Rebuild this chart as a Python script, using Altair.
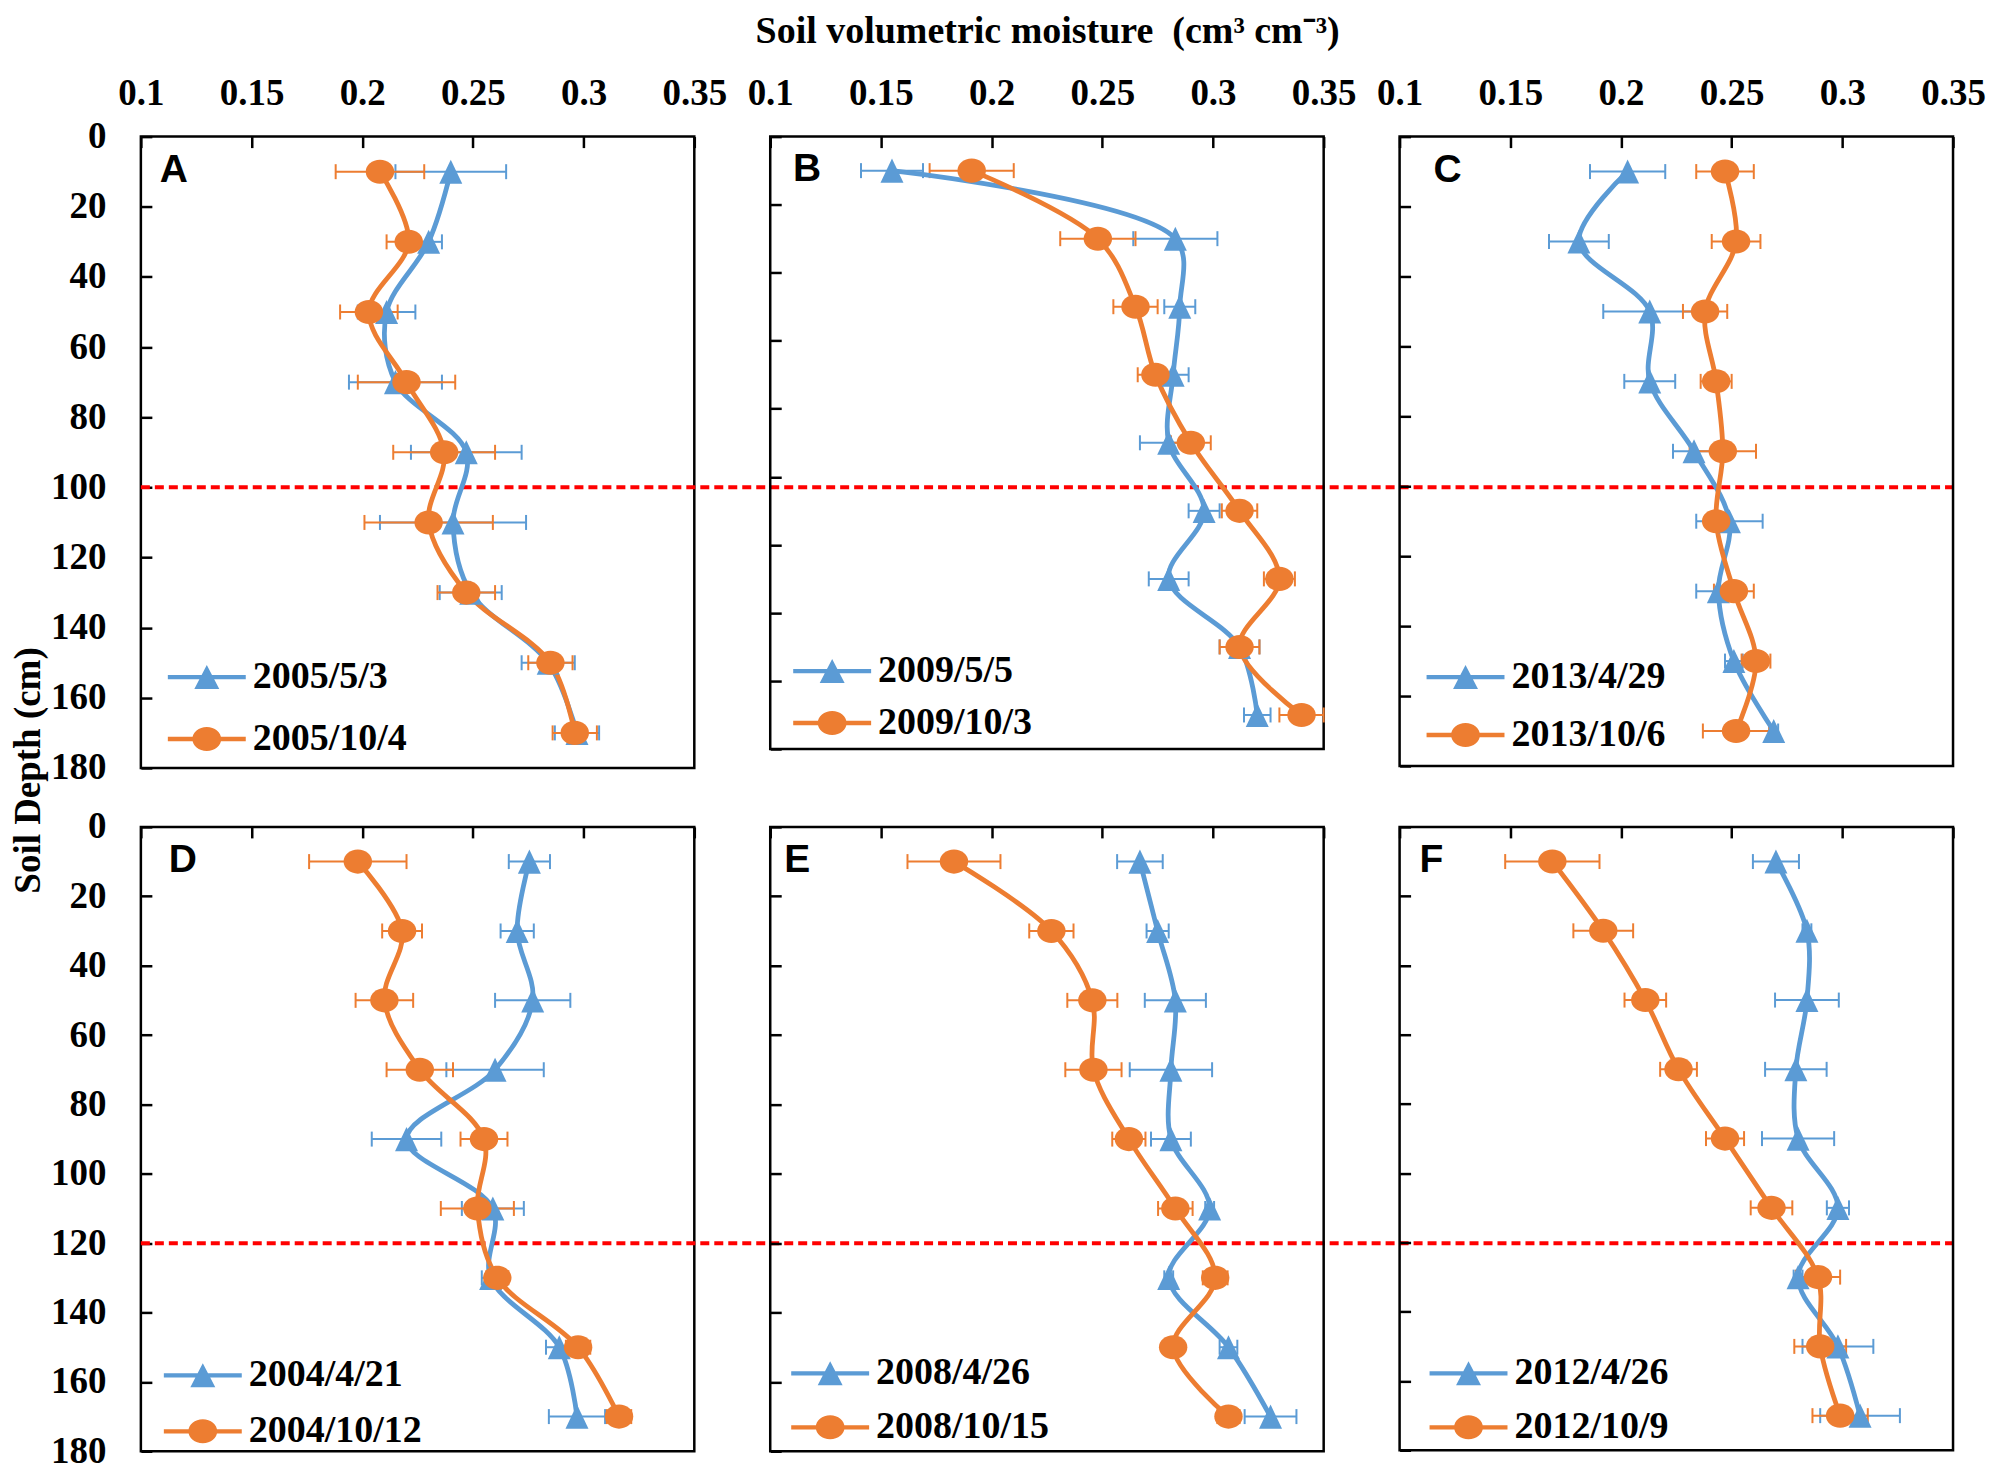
import altair as alt
import pandas as pd

# ---------------- data ----------------
DEPTHS = [10, 30, 50, 70, 90, 110, 130, 150, 170]
LETTERS = ["A", "B", "C", "D", "E", "F"]
BLUE_LABELS = ["2005/5/3", "2009/5/5", "2013/4/29", "2004/4/21", "2008/4/26", "2012/4/26"]
ORANGE_LABELS = ["2005/10/4", "2009/10/3", "2013/10/6", "2004/10/12", "2008/10/15", "2012/10/9"]

A_BLUE = [0.240, 0.230, 0.211, 0.215, 0.247, 0.241, 0.249, 0.284, 0.297]
A_BLUE_ERR = [0.025, 0.006, 0.013, 0.021, 0.025, 0.033, 0.014, 0.012, 0.010]
A_ORANGE = [0.208, 0.221, 0.203, 0.220, 0.237, 0.230, 0.247, 0.285, 0.296]
A_ORANGE_ERR = [0.020, 0.010, 0.013, 0.022, 0.023, 0.029, 0.013, 0.010, 0.010]

B_BLUE = [0.155, 0.283, 0.285, 0.282, 0.280, 0.296, 0.280, 0.312, 0.320]
B_BLUE_ERR = [0.014, 0.019, 0.007, 0.007, 0.013, 0.007, 0.009, 0.009, 0.006]
B_ORANGE = [0.191, 0.248, 0.265, 0.274, 0.290, 0.312, 0.330, 0.312, 0.340]
B_ORANGE_ERR = [0.019, 0.017, 0.010, 0.008, 0.009, 0.008, 0.007, 0.009, 0.010]

C_BLUE = [0.203, 0.181, 0.213, 0.213, 0.233, 0.249, 0.244, 0.251, 0.269]
C_BLUE_ERR = [0.017, 0.0135, 0.021, 0.0115, 0.0095, 0.015, 0.010, 0.004, 0.002]
C_ORANGE = [0.247, 0.252, 0.238, 0.243, 0.246, 0.243, 0.251, 0.261, 0.252]
C_ORANGE_ERR = [0.013, 0.011, 0.010, 0.007, 0.015, 0.004, 0.009, 0.0065, 0.015]

D_BLUE = [0.2755, 0.270, 0.277, 0.260, 0.220, 0.259, 0.258, 0.289, 0.297]
D_BLUE_ERR = [0.0093, 0.0075, 0.017, 0.022, 0.0157, 0.014, 0.004, 0.006, 0.0127]
D_ORANGE = [0.198, 0.218, 0.210, 0.226, 0.255, 0.252, 0.261, 0.2975, 0.316]
D_ORANGE_ERR = [0.022, 0.009, 0.013, 0.015, 0.0106, 0.0165, 0.005, 0.0055, 0.0055]

E_BLUE = [0.267, 0.275, 0.283, 0.281, 0.281, 0.2985, 0.280, 0.307, 0.326]
E_BLUE_ERR = [0.0103, 0.005, 0.0138, 0.0186, 0.009, 0.002, 0.002, 0.004, 0.0117]
E_ORANGE = [0.183, 0.227, 0.2455, 0.246, 0.262, 0.283, 0.301, 0.282, 0.307]
E_ORANGE_ERR = [0.021, 0.010, 0.0113, 0.0127, 0.0075, 0.0078, 0.0056, 0.003, 0.005]

F_BLUE = [0.270, 0.284, 0.284, 0.279, 0.280, 0.298, 0.280, 0.298, 0.308]
F_BLUE_ERR = [0.0104, 0.002, 0.0144, 0.0139, 0.0163, 0.005, 0.002, 0.016, 0.018]
F_ORANGE = [0.169, 0.192, 0.211, 0.226, 0.247, 0.268, 0.289, 0.290, 0.299]
F_ORANGE_ERR = [0.0213, 0.0135, 0.0094, 0.0083, 0.0086, 0.0094, 0.010, 0.0117, 0.0125]

BLUE_SERIES = [A_BLUE, B_BLUE, C_BLUE, D_BLUE, E_BLUE, F_BLUE]
BLUE_ERRS = [A_BLUE_ERR, B_BLUE_ERR, C_BLUE_ERR, D_BLUE_ERR, E_BLUE_ERR, F_BLUE_ERR]
ORANGE_SERIES = [A_ORANGE, B_ORANGE, C_ORANGE, D_ORANGE, E_ORANGE, F_ORANGE]
ORANGE_ERRS = [A_ORANGE_ERR, B_ORANGE_ERR, C_ORANGE_ERR, D_ORANGE_ERR, E_ORANGE_ERR, F_ORANGE_ERR]

X_TICKS = [0.1, 0.15, 0.2, 0.25, 0.3, 0.35]
Y_TICKS = [0, 20, 40, 60, 80, 100, 120, 140, 160, 180]
REF_DEPTHS = [100, 120]          # red dashed line, top row / bottom row
LETTER_X = [0.1085, 0.1103, 0.1153, 0.1126, 0.1063, 0.109]
LETTER_DEPTH = 13

# ---------------- style ----------------
SERIF = "Liberation Serif"
SANS = "Liberation Sans"
BLUE = "#5B9BD5"
ORANGE = "#ED7D31"
W = 554
HEIGHTS = [632, 613, 630, 625, 625, 624]
GAP_X = 76
GAP_Y = 59
TICK = 11
LEG_X = [42, 38, 42, 38, 36, 45]
LEG_Y = [517, 511, 517, 525, 523, 523]
LEG_ROWPAD = [19, 9, 15, 13, 11, 11]

MARK_TRI = "M0,-1.1L1.05,1.1L-1.05,1.1Z"
MARK_CIRC = "M1.3,0A1.3,1.1,0,1,1,-1.3,0A1.3,1.1,0,1,1,1.3,0Z"
LEG_TRI = ("M-1.625,-0.09L1.625,-0.09L1.625,0.09L-1.625,0.09Z"
           "M-0.52,0.5L0,-0.5L0.52,0.5Z")
LEG_CIRC = ("M-1.625,-0.09L1.625,-0.09L1.625,0.09L-1.625,0.09Z"
            "M0.6,0A0.6,0.5,0,1,1,-0.6,0A0.6,0.5,0,1,1,0.6,0Z")


def panel(i):
    row, col = divmod(i, 3)
    bl, ol = BLUE_LABELS[i], ORANGE_LABELS[i]
    recs = []
    for lab, vals, errs in ((bl, BLUE_SERIES[i], BLUE_ERRS[i]),
                            (ol, ORANGE_SERIES[i], ORANGE_ERRS[i])):
        for d, v, e in zip(DEPTHS, vals, errs):
            recs.append({"depth": d, "value": v, "lo": v - e, "hi": v + e, "series": lab})
    df = pd.DataFrame(recs)

    xscale = alt.Scale(domain=[0.1, 0.35], nice=False, zero=False)
    yscale = alt.Scale(domain=[0, 180], reverse=True, nice=False, zero=False)
    xaxis = alt.Axis(orient="top", values=X_TICKS, format=".2~f", labels=(row == 0),
                     domain=False, grid=False, ticks=True, tickSize=TICK, tickWidth=2.5,
                     tickColor="black", offset=-TICK, labelPadding=32,
                     labelBaseline="alphabetic", labelFont=SERIF, labelFontSize=37,
                     labelFontWeight="bold", labelColor="black", labelFlush=False,
                     labelOverlap=False, labelBound=False, title=None)
    yargs = dict(orient="left", values=Y_TICKS, labels=(col == 0), domain=False, grid=False,
                 ticks=True, tickSize=TICK, tickWidth=2.5, tickColor="black", offset=-TICK,
                 labelPadding=35, labelFont=SERIF, labelFontSize=37, labelFontWeight="bold",
                 labelColor="black", labelFlush=False, labelOverlap=False, labelBound=False)
    if i == 0:
        yargs.update(title="Soil Depth (cm)", titleFont=SERIF, titleFontSize=37,
                     titleFontWeight="bold", titleColor="black", titleAngle=270,
                     titleAlign="center", titleBaseline="alphabetic",
                     titleX=-112, titleY=634)
    else:
        yargs.update(title=None)
    yaxis = alt.Axis(**yargs)

    Y = alt.Y("depth:Q", scale=yscale, axis=yaxis)
    base = alt.Chart(df)
    layers = []

    if col == 0:
        ref = pd.DataFrame({"depth": [REF_DEPTHS[row]]})
        layers.append(alt.Chart(ref).mark_rule(color="#FF0000", strokeWidth=4,
                                               strokeDash=[9, 5]).encode(
            y=Y, x=alt.value(0), x2=alt.value(3 * W + 2 * GAP_X)))

    for lab, c in ((bl, BLUE), (ol, ORANGE)):
        sub = base.transform_filter(alt.datum.series == lab)
        layers.append(sub.mark_rule(color=c, strokeWidth=2).encode(
            x=alt.X("lo:Q", scale=xscale, axis=xaxis), x2="hi:Q", y=Y))
        layers.append(sub.transform_fold(["lo", "hi"], as_=["end", "xe"]).mark_tick(
            color=c, orient="vertical", size=15, thickness=2, opacity=1).encode(
            x=alt.X("xe:Q", scale=xscale, axis=xaxis), y=Y))
    for lab, c in ((bl, BLUE), (ol, ORANGE)):
        sub = base.transform_filter(alt.datum.series == lab)
        layers.append(sub.mark_line(color=c, strokeWidth=4.8, interpolate="catmull-rom",
                                    strokeJoin="round", strokeCap="round").encode(
            x=alt.X("value:Q", scale=xscale, axis=xaxis), y=Y, order="depth:Q"))
    for lab, c, shp in ((bl, BLUE, MARK_TRI), (ol, ORANGE, MARK_CIRC)):
        sub = base.transform_filter(alt.datum.series == lab)
        layers.append(sub.mark_point(color=c, filled=True, shape=shp, size=480,
                                     opacity=1, strokeWidth=0).encode(
            x=alt.X("value:Q", scale=xscale, axis=xaxis), y=Y))

    leg = alt.Legend(orient="none", legendX=LEG_X[i], legendY=LEG_Y[i], title=None,
                     direction="vertical", labelFont=SERIF, labelFontSize=38,
                     labelFontWeight="bold", labelColor="black", labelLimit=600,
                     labelOffset=22, symbolSize=2304, symbolStrokeWidth=0,
                     symbolOpacity=1, rowPadding=LEG_ROWPAD[i], padding=0)
    layers.append(base.transform_filter("false").mark_point(filled=True, opacity=1).encode(
        x=alt.X("value:Q", scale=xscale, axis=xaxis), y=Y,
        color=alt.Color("series:N", scale=alt.Scale(domain=[bl, ol], range=[BLUE, ORANGE]),
                        legend=leg),
        shape=alt.Shape("series:N", scale=alt.Scale(domain=[bl, ol],
                                                    range=[LEG_TRI, LEG_CIRC]),
                        legend=leg)))

    letter = pd.DataFrame({"letter": [LETTERS[i]], "x": [LETTER_X[i]], "depth": [LETTER_DEPTH]})
    layers.append(alt.Chart(letter).mark_text(font=SANS, fontSize=39, fontWeight="bold",
                                              color="black", align="left",
                                              baseline="alphabetic").encode(
        x=alt.X("x:Q", scale=xscale, axis=xaxis), y=Y, text="letter:N"))

    return alt.layer(*layers).properties(width=W, height=HEIGHTS[i])


chart = alt.concat(
    *[panel(i) for i in range(6)], columns=3,
    spacing={"row": GAP_Y, "column": GAP_X}, bounds="flush",
).resolve_scale(
    color="independent", shape="independent", x="independent", y="independent"
).properties(
    title=alt.TitleParams(text="Soil volumetric moisture \u00a0(cm\u00b3 cm\u207b\u00b3)",
                          font=SERIF, fontSize=38, fontWeight="bold", color="black",
                          anchor="middle", frame="bounds", offset=22, dx=50),
    padding={"left": 0, "top": 4, "right": 0, "bottom": 0},
).configure_view(stroke="black", strokeWidth=2.5)

chart.save("out.html", embed_options={"renderer": "svg", "actions": False})
